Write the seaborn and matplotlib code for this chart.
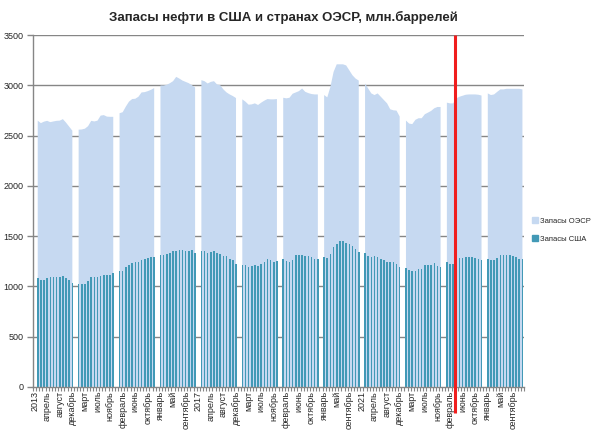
import numpy as np
import pandas as pd
import matplotlib
matplotlib.use("Agg")
import matplotlib.pyplot as plt
import matplotlib.patches as mpatches
import matplotlib.transforms as mtransforms
import seaborn as sns

years = list(range(2013, 2025))
months = ["январь", "февраль", "март", "апрель", "май", "июнь",
          "июль", "август", "сентябрь", "октябрь", "ноябрь", "декабрь"]

oecd_stocks = [
    2650, 2625, 2640, 2648, 2635, 2642, 2648, 2650, 2665, 2630, 2590, 2550,  # 2013
    2560, 2562, 2570, 2595, 2648, 2642, 2650, 2700, 2705, 2690, 2688, 2688,  # 2014
    2724, 2734, 2790, 2839, 2865, 2868, 2888, 2931, 2934, 2944, 2957, 2974,  # 2015
    3000, 3000, 3007, 3023, 3043, 3086, 3069, 3049, 3036, 3023, 3003, 2980,  # 2016
    3053, 3043, 3020, 3036, 3043, 3010, 3003, 2961, 2931, 2911, 2895, 2875,  # 2017
    2862, 2839, 2809, 2812, 2822, 2806, 2829, 2849, 2865, 2862, 2862, 2865,  # 2018
    2878, 2872, 2878, 2918, 2931, 2944, 2970, 2937, 2924, 2915, 2911, 2911,  # 2019
    2905, 2882, 2987, 3135, 3211, 3211, 3211, 3200, 3151, 3102, 3069, 3049,  # 2020
    3020, 2970, 2921, 2905, 2921, 2888, 2855, 2822, 2763, 2753, 2750, 2691,  # 2021
    2651, 2621, 2615, 2658, 2674, 2674, 2714, 2730, 2747, 2773, 2786, 2786,  # 2022
    2829, 2822, 2822, 2872, 2888, 2898, 2908, 2911, 2911, 2911, 2908, 2900,  # 2023
    2921, 2905, 2911, 2937, 2961, 2961, 2967, 2967, 2967, 2967, 2967, 2961,  # 2024
]

us_stocks = [
    1080, 1060, 1060, 1080, 1091, 1091, 1091, 1091, 1100, 1080, 1060, 1030,  # 2013
    1020, 1020, 1020, 1050, 1091, 1091, 1091, 1100, 1111, 1111, 1117, 1131,  # 2014
    1151, 1151, 1191, 1215, 1232, 1242, 1242, 1262, 1272, 1282, 1292, 1292,  # 2015
    1312, 1312, 1322, 1332, 1349, 1349, 1359, 1359, 1349, 1349, 1359, 1332,  # 2016
    1349, 1349, 1332, 1342, 1349, 1332, 1322, 1302, 1302, 1272, 1262, 1221,  # 2017
    1211, 1211, 1191, 1201, 1211, 1201, 1221, 1242, 1272, 1262, 1242, 1252,  # 2018
    1272, 1252, 1242, 1262, 1312, 1312, 1312, 1302, 1302, 1292, 1272, 1272,  # 2019
    1292, 1282, 1322, 1393, 1419, 1450, 1450, 1433, 1423, 1403, 1372, 1342,  # 2020
    1332, 1302, 1292, 1302, 1292, 1272, 1262, 1242, 1242, 1242, 1221, 1191,  # 2021
    1181, 1161, 1151, 1151, 1171, 1171, 1211, 1211, 1211, 1232, 1201, 1191,  # 2022
    1242, 1221, 1221, 1252, 1282, 1282, 1292, 1292, 1292, 1282, 1272, 1262,  # 2023
    1272, 1262, 1262, 1282, 1312, 1312, 1312, 1312, 1302, 1292, 1272, 1272,  # 2024
]

series_names = ["Запасы ОЭСР", "Запасы США"]
title = "Запасы нефти в США и странах ОЭСР, млн.баррелей"
y_ticks = [0, 500, 1000, 1500, 2000, 2500, 3000, 3500]
red_marker_pos = 133.7  # category position of the red marker line (between Mar and Apr 2023)

# ---- build categories: each year = [year label (empty)] + 12 months
cat_labels, oecd_vals, us_vals, pos = [], [], [], []
k = 0
for yi, y in enumerate(years):
    cat_labels.append(str(y)); oecd_vals.append(np.nan); us_vals.append(np.nan); pos.append(k); k += 1
    for mi, m in enumerate(months):
        cat_labels.append(m)
        oecd_vals.append(oecd_stocks[yi * 12 + mi])
        us_vals.append(us_stocks[yi * 12 + mi])
        pos.append(k); k += 1

df = pd.DataFrame({"pos": pos, "label": cat_labels, "oecd": oecd_vals, "us": us_vals})
n = len(df)

sns.set_theme(style="white")
plt.rcParams["font.family"] = ["Liberation Sans", "DejaVu Sans"]

fig = plt.figure(figsize=(6.01, 4.36), dpi=100)
rect = [33 / 601, 1 - 386.7 / 436, (524 - 33) / 601, (386.7 - 35.3) / 436]

area_color = "#C6D9F1"
bar_color = "#4299B6"
grid_color = "#868686"

# background axes holding only the gridlines (guaranteed behind the data)
bg = fig.add_axes(rect, zorder=0)
bg.set_xlim(0, 1)
bg.set_ylim(0, 3500)
for v in y_ticks[1:]:
    bg.axhline(v, color=grid_color, linewidth=1.0)
bg.axis("off")

ax = fig.add_axes(rect, zorder=1)
ax.patch.set_visible(False)
ax.grid(False)

# area per year segment
for yi in range(len(years)):
    seg = df.iloc[yi * 13 + 1: yi * 13 + 13]
    xs = list(seg["pos"]) + [seg["pos"].iloc[-1], seg["pos"].iloc[0]]
    ys = list(seg["oecd"]) + [0, 0]
    ax.fill(xs, ys, color=area_color, linewidth=0, zorder=1)

sns.barplot(data=df.dropna(), x="pos", y="us", native_scale=True, width=0.5,
            color=bar_color, saturation=1, linewidth=0, ax=ax, zorder=2)
ax.grid(False)

ax.set_xlim(-0.5, n - 0.5)
ax.set_ylim(0, 3500)
ax.set_yticks(y_ticks)
ax.set_yticklabels([str(v) for v in y_ticks], fontsize=6.5)

major = list(range(0, n, 4))
ax.set_xticks(major)
ax.set_xticklabels([cat_labels[i] for i in major], rotation=90, fontsize=6.5)
ax.set_xticks(np.arange(-0.5, n, 1), minor=True)
ax.tick_params(axis="x", which="major", length=0, pad=3)
ax.tick_params(axis="x", which="minor", length=3, color=grid_color, width=0.8, bottom=True)
ax.tick_params(axis="y", length=4, color=grid_color, width=1, left=True, pad=3)
ax.set_xlabel("")
ax.set_ylabel("")

for s in ["top", "right"]:
    ax.spines[s].set_visible(False)
for s in ["left", "bottom"]:
    ax.spines[s].set_color(grid_color)
    ax.spines[s].set_linewidth(1.0)

# red marker line
trans = mtransforms.blended_transform_factory(ax.transData, ax.transAxes)
ax.plot([red_marker_pos, red_marker_pos], [1.0, -0.074], transform=trans,
        color="#F01E1E", linewidth=2.2, clip_on=False, zorder=5, solid_capstyle="butt")

handles = [mpatches.Patch(color=area_color, label=series_names[0]),
           mpatches.Patch(color=bar_color, label=series_names[1])]
fig.legend(handles=handles, loc="center left", bbox_to_anchor=(532 / 601, 1 - 230 / 436),
           frameon=False, fontsize=5.5, handlelength=0.8, handleheight=0.8,
           handletextpad=0.3, labelspacing=1.3, borderpad=0, borderaxespad=0)

fig.text(283 / 601, 1 - 17 / 436, title, ha="center", va="center",
         fontsize=9.5, fontweight="bold")

fig.savefig("out.png", dpi=100)
